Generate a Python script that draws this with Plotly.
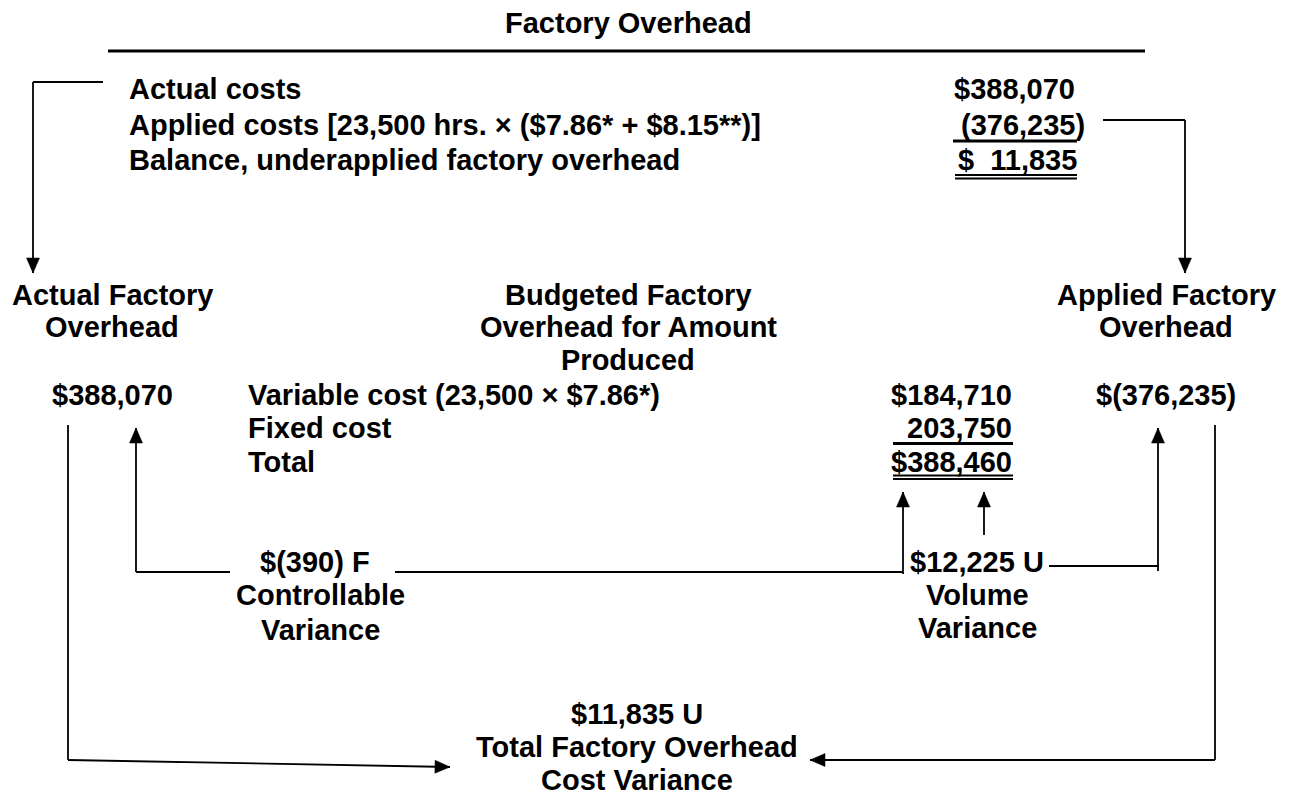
import plotly.graph_objects as go

# ---------------- data (texts and amounts) ----------------
title = "Factory Overhead"
ledger_labels = ["Actual costs",
                 "Applied costs [23,500 hrs. \u00d7 ($7.86* + $8.15**)]",
                 "Balance, underapplied factory overhead"]
ledger_amounts = ["$388,070", "(376,235)", "$\u00a0\u00a011,835"]

actual_header = ["Actual Factory", "Overhead"]
budget_header = ["Budgeted Factory", "Overhead for Amount", "Produced"]
applied_header = ["Applied Factory", "Overhead"]

actual_amount = "$388,070"
applied_amount = "$(376,235)"
budget_labels = ["Variable cost (23,500 \u00d7 $7.86*)", "Fixed cost", "Total"]
budget_amounts = ["$184,710", "203,750", "$388,460"]

controllable = ["$(390) F", "Controllable", "Variance"]
volume = ["$12,225 U", "Volume", "Variance"]
total_var = ["$11,835 U", "Total Factory Overhead", "Cost Variance"]

# ---------------- layout helpers ----------------
W, H = 1290, 796
FS = 29
FONT = dict(family="Liberation Sans, Arial, sans-serif", size=FS, color="black", weight="bold")
MID = 10  # baseline -> box middle offset

annotations = []
shapes = []


def text(s, x, baseline, anchor="center"):
    annotations.append(dict(text=s, x=x, y=baseline - MID, xref="x", yref="y",
                            xanchor=anchor, yanchor="middle", showarrow=False,
                            font=FONT, borderpad=0))


def line(x0, y0, x1, y1, w=1.8):
    shapes.append(dict(type="line", x0=x0, y0=y0, x1=x1, y1=y1, xref="x", yref="y",
                       line=dict(color="black", width=w)))


def connector(pts, w=1.8, head=True, L=15, hw=6.5):
    for (a, b) in zip(pts[:-1], pts[1:]):
        line(a[0], a[1], b[0], b[1], w)
    if head:
        (x0, y0), (x1, y1) = pts[-2], pts[-1]
        dx, dy = x1 - x0, y1 - y0
        n = (dx * dx + dy * dy) ** 0.5
        ux, uy = dx / n, dy / n
        bx, by = x1 - ux * L, y1 - uy * L
        px, py = -uy * hw, ux * hw
        path = (f"M {x1},{y1} L {bx + px},{by + py} L {bx - px},{by - py} Z")
        shapes.append(dict(type="path", path=path, xref="x", yref="y",
                           fillcolor="black", line=dict(color="black", width=0.5)))


# ---------------- top T-account ----------------
text(title, 628, 33)
line(108, 51, 1145, 51, 3)

rows_top = [99, 135, 170]
for s, b in zip(ledger_labels, rows_top):
    text(s, 128, b, "left")
amount_right = [1076, 1086, 1078]
for s, b, xr in zip(ledger_amounts, rows_top, amount_right):
    text(s, xr, b, "right")
line(953, 141, 1077, 141, 3)
line(955, 175, 1077, 175, 1.8)
line(955, 178.5, 1077, 178.5, 1.8)

connector([(103, 82), (33, 82), (33, 273)])
connector([(1103, 120), (1185, 120), (1185, 273)])

# ---------------- middle section ----------------
for s, b in zip(actual_header, [305, 337]):
    text(s, 112, b)
for s, b in zip(budget_header, [305, 337, 370]):
    text(s, 628, b)
for s, b in zip(applied_header, [305, 337]):
    text(s, 1166, b)

rows_mid = [405, 438, 472]
text(actual_amount, 112, 405)
text(applied_amount, 1166, 405)
for s, b in zip(budget_labels, rows_mid):
    text(s, 247, b, "left")
for s, b in zip(budget_amounts, rows_mid):
    text(s, 1013, b, "right")
line(893, 443.5, 1013, 443.5, 3)
line(893, 475.5, 1013, 475.5, 1.8)
line(893, 479, 1013, 479, 1.8)

# ---------------- variances ----------------
for s, b, cx in zip(controllable, [572, 605, 640], [315, 320, 320]):
    text(s, cx, b)
for s, b in zip(volume, [572, 605, 638]):
    text(s, 977, b)
for s, b in zip(total_var, [724, 757, 790]):
    text(s, 637, b)

connector([(230, 572), (136, 572), (136, 428)])
connector([(395, 572), (903, 572), (903, 492)])
connector([(984, 535), (984, 492)])
connector([(1049, 566), (1158, 566), (1158, 428)])
line(903, 572, 903, 574)
line(1158, 566, 1158, 571)

connector([(68, 425), (68, 760), (450, 767)])
connector([(1215, 425), (1215, 760), (810, 760)])

fig = go.Figure()
fig.update_layout(
    width=W, height=H, margin=dict(l=0, r=0, t=0, b=0),
    paper_bgcolor="white", plot_bgcolor="white",
    xaxis=dict(range=[0, W], visible=False, fixedrange=True),
    yaxis=dict(range=[H, 0], visible=False, fixedrange=True),
    showlegend=False, annotations=annotations, shapes=shapes,
)
fig.write_html("out.html", config=dict(displayModeBar=False),
               post_script="document.body.style.margin='0';")
